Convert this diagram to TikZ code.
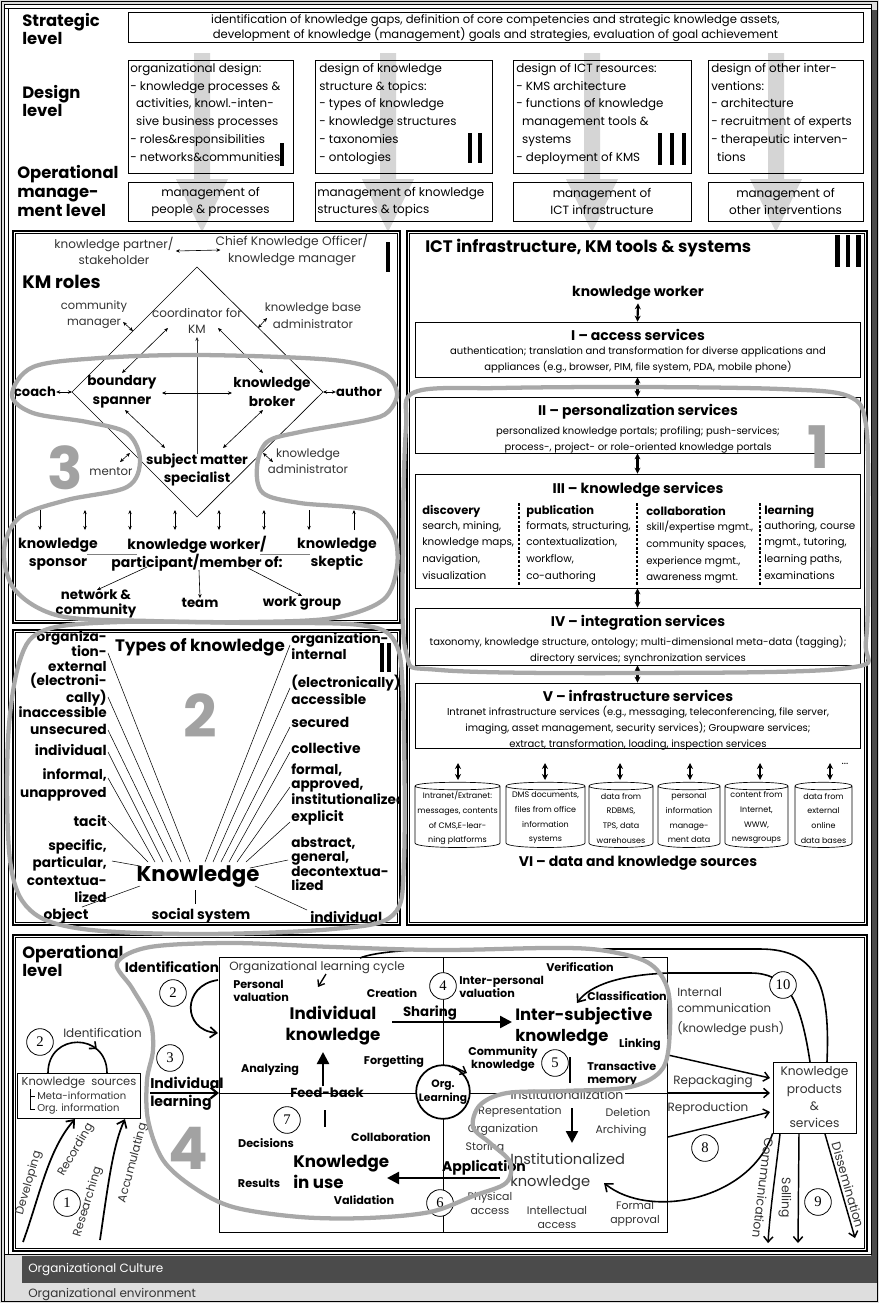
\documentclass[tikz,border=0pt]{standalone}
\usepackage{fontspec}
\setmainfont{Poppins}
\newfontfamily\numfont{Liberation Serif}
\usetikzlibrary{arrows.meta,fit,calc,decorations.markings}
\definecolor{bggray}{HTML}{DEDEDE}
\definecolor{darkbar}{HTML}{4B4B4B}
\definecolor{blobgray}{HTML}{A8A8A8}
\definecolor{arrowgray}{HTML}{D5D5D5}
\definecolor{digitgray}{HTML}{A2A2A2}
\definecolor{soft}{HTML}{333333}
\newcommand\fsz[2]{\fontsize{#1}{#2}\selectfont}
\newcommand\cylshape[2]{%
  \draw[line width=0.5pt] (#1,786) -- (#1,843) .. controls (#1,849) and (#2,849) .. (#2,843) -- (#2,786) .. controls (#2,781) and (#1,781) .. (#1,786) .. controls (#1,791) and (#2,791) .. (#2,786);}
\newcommand\gArrow[1]{%
  \fill[arrowgray] ({#1-8},53) -- ({#1+8},53) -- ({#1+8},179) -- ({#1+26},179) -- (#1,232) -- ({#1-26},179) -- ({#1-8},179) -- cycle;}
\newcommand\panelbox[4]{%
  \draw[line width=0.9pt] (#1,#2) rectangle (#3,#4);
  \draw[line width=0.5pt] ({#1+2.8},{#2+2.8}) rectangle ({#3-2.8},{#4-2.8});}
\begin{document}
\begin{tikzpicture}[x=0.75pt,y=-0.75pt,
  t/.style={inner sep=0pt, font=\fsz{9}{10.5}},
  lvl/.style={inner sep=0pt, anchor=west, align=left, font=\bfseries\fsz{12.3}{14}},
  frame/.style={draw, line width=0.5pt, inner sep=0pt},
  blob/.style={draw=blobgray, line width=3.2pt, line join=round},
  digit/.style={inner sep=0pt, text=digitgray, font=\bfseries\fsz{44}{44}},
  num/.style={draw, circle, fill=white, line width=0.6pt, minimum size=20pt, inner sep=0pt, font=\numfont\fsz{11}{11}},
  dbl/.style={{Stealth[length=3pt,width=2.6pt]}-{Stealth[length=3pt,width=2.6pt]}, line width=0.45pt},
  sgl/.style={-{Stealth[length=3pt,width=2.6pt]}, line width=0.45pt},
  fat/.style={{Stealth[length=4.5pt,width=4.5pt]}-{Stealth[length=4.5pt,width=4.5pt]}, line width=1.6pt},
  barb/.style={-{Straight Barb[length=4pt,width=7pt]}, line width=1.1pt},
  big/.style={-{Triangle[length=9pt,width=9pt]}, line width=1.8pt},
  sb/.style={inner sep=0pt, font=\bfseries\fsz{8.4}{9.8}},
  sr/.style={inner sep=0pt, font=\fsz{8.2}{10.5}, text=soft},
  kb/.style={inner sep=0pt, font=\bfseries\fsz{10.4}{11}},
  km/.style={inner sep=0pt, align=center, text=soft, font=\fsz{9}{12.5}},
  ict/.style={inner sep=0pt, font=\fsz{7.5}{12}, align=center},
  ictb/.style={inner sep=0pt, font=\bfseries\fsz{10.5}{11}},
  cyt/.style={inner sep=0pt, font=\fsz{6}{11}, align=center},
  rot/.style={inner sep=0pt, font=\fsz{8.7}{10}, text=soft}
]
\useasboundingbox (0,0) rectangle (879,1303);
% ---------- background and frame
\fill[bggray] (0,0) rectangle (879,1303);
\fill[darkbar] (871,10) rectangle (878,1283);
\fill[darkbar] (22,1256) rectangle (878,1283);
\fill[white] (4.5,4.5) rectangle (871,1254);
\draw[line width=0.7pt] (1.2,1.2) rectangle (877.8,1301.8);
\draw[line width=0.7pt] (4.5,1301.8) -- (4.5,4.5) -- (871,4.5) -- (871,1254) -- (4.5,1254);
\draw[line width=0.6pt] (8.5,8.5) -- (8.5,1254);
\draw[line width=0.6pt] (4.5,8.5) -- (871,8.5);
\node[t, anchor=west, text=white, font=\fsz{9}{10}] (culture) at (28,1270) {Organizational Culture};
\node[t, anchor=west, text=soft, font=\fsz{9}{10}] (env) at (28,1295) {Organizational environment};

% ---------- top levels
\gArrow{202}\gArrow{388}\gArrow{592}\gArrow{776}
\node[lvl] (strat) at (22,29) {Strategic\\level};
\node[lvl] (dlvl) at (22,101) {Design\\level};
\node[lvl, font=\bfseries\fsz{12.3}{13.9}] (olvl) at (17,191) {Operational\\manage-\\ment level};
\node[frame, fit={(128,12)(863,42)}] (sbox) {};
\node[t, align=center, font=\fsz{8.7}{10.3}] (stxt) at ($(sbox.center)+(0,1)$) {identification of knowledge gaps, definition of core competencies and strategic knowledge assets,\\development of knowledge (management) goals and strategies, evaluation of goal achievement};

\node[frame, fit={(128,60)(293,173)}] (d1) {};
\node[frame, fit={(315,60)(492,173)}] (d2) {};
\node[frame, fit={(513,60)(691,173)}] (d3) {};
\node[frame, fit={(708,60)(863,173)}] (d4) {};
\node[t, anchor=north west, align=left, font=\fsz{8.9}{13.35}] (d1t) at (130,63) {organizational design:\\- knowledge processes \&\\\hspace*{0.5em}activities, knowl.-inten-\\\hspace*{0.5em}sive business processes\\- roles\&responsibilities\\- networks\&communities};
\node[t, anchor=north west, align=left, font=\fsz{8.9}{13.35}] (d2t) at (319,63) {design of knowledge\\structure \& topics:\\- types of knowledge\\- knowledge structures\\- taxonomies\\- ontologies};
\node[t, anchor=north west, align=left, font=\fsz{8.9}{13.35}] (d3t) at (516,63) {design of ICT resources:\\- KMS architecture\\- functions of knowledge\\\hspace*{0.5em}management tools \&\\\hspace*{0.5em}systems\\- deployment of KMS};
\node[t, anchor=north west, align=left, font=\fsz{8.9}{13.35}] (d4t) at (711,63) {design of other inter-\\ventions:\\- architecture\\- recruitment of experts\\- therapeutic interven-\\\hspace*{0.5em}tions};
\fill (280,143) rectangle (284,166);
\fill (468,133) rectangle (472,163); \fill (478,133) rectangle (482,163);
\fill (658,133) rectangle (662,165); \fill (670,133) rectangle (674,165); \fill (682,133) rectangle (686,165);

\node[frame, fit={(128,182)(293,221)}] (o1) {};
\node[frame, fit={(315,182)(492,221)}] (o2) {};
\node[frame, fit={(513,182)(691,221)}] (o3) {};
\node[frame, fit={(708,182)(863,221)}] (o4) {};
\node[t, align=center, font=\fsz{9}{12.75}] (o1t) at (o1.center) {management of\\people \& processes};
\node[t, anchor=west, align=left, font=\fsz{9}{12.75}] (o2t) at (317,201.5) {management of knowledge\\structures \& topics};
\node[t, align=center, font=\fsz{9}{12.75}] (o3t) at (o3.center) {management of\\ICT infrastructure};
\node[t, align=center, font=\fsz{9}{12.75}] (o4t) at (o4.center) {management of\\other interventions};

% ---------- panels
\panelbox{13}{231}{400}{623}
\panelbox{13}{630}{400}{925}
\panelbox{407}{231}{867}{925}
\panelbox{13}{935}{867}{1251}

% ---------- KM roles
\node[lvl, font=\bfseries\fsz{13.5}{14}] (kmr) at (22,282) {KM roles};
\fill (385.5,242) rectangle (389.5,272);
\node[km] (kp) at (114,251) {knowledge partner/\\stakeholder};
\node[km, font=\fsz{9.2}{12.75}] (cko) at (292,250) {Chief Knowledge Officer/\\knowledge manager};
\draw[dbl] (kp.east) ++(2,0) -- ($(cko.west)+(5,0)$);
\coordinate (dT) at (197,267); \coordinate (dL) at (72,392);
\coordinate (dR) at (323,392); \coordinate (dB) at (197,517);
\draw[line width=0.5pt] (dT) -- (dR) -- (dB) -- (dL) -- cycle;
\node[km, font=\fsz{8.6}{12}] (cm) at (94,315) {community\\manager};
\node[km, font=\fsz{9}{12.5}] (coord) at (197,321) {coordinator for\\KM};
\node[km, font=\fsz{8.8}{12.8}] (kba) at (313,316) {knowledge base\\administrator};
\node[kb, font=\bfseries\fsz{9.8}{11}] (coach) at (35,392) {coach};
\node[kb, font=\bfseries\fsz{9.8}{11}] (author) at (359,392) {author};
\node[kb, align=center, font=\bfseries\fsz{10.2}{14}] (bs) at (122,392) {boundary\\spanner};
\node[kb, align=center, font=\bfseries\fsz{10.2}{14}] (kbr) at (272,392) {knowledge\\broker};
\node[kb, align=center, font=\bfseries\fsz{10}{13}] (sms) at (197,470) {subject matter\\specialist};
\node[km, font=\fsz{8.8}{12}] (mentor) at (111,472) {mentor};
\node[km, font=\fsz{8.8}{12}] (kadm) at (308,461) {knowledge\\administrator};
\draw[dbl] (123,322) -- (133,331);
\draw[dbl] (267,318) -- (258,328);
\draw[dbl] (168,328) -- (122,373);
\draw[dbl] (218,328) -- (263,373);
\draw[sgl, draw=soft] (sms.north) -- (197,337);
\draw[dbl] (162,393) -- (232,393);
\draw[dbl] (coach.east) -- (dL);
\draw[dbl] (author.west) -- (dR);
\draw[dbl] (125,410) -- (165,448);
\draw[dbl] (263,410) -- (223,448);
\draw[dbl] (120,462) -- (130,453);
\draw[dbl] (263,453) -- (273,462);
\draw[sgl] (40,510) -- (40,530);
\foreach \xx in {85,130,175,219,264} {\draw[dbl] (\xx,510) -- (\xx,530);}
\draw[sgl] (309,510) -- (309,530);
\draw[sgl] (354,530) -- (354,510);
\draw[line width=0.4pt, draw=gray] (87,554) -- (137,554);
\draw[line width=0.4pt, draw=gray] (260,554) -- (310,554);
\node[kb, align=center, font=\bfseries\fsz{10.5}{13.5}] (ksp) at (58,554) {knowledge\\sponsor};
\node[kb, align=center, font=\bfseries\fsz{10.5}{13.5}] (kwk) at (197,554) {knowledge worker/\\participant/member of:};
\node[kb, align=center, font=\bfseries\fsz{10.5}{13.5}] (ksk) at (337,554) {knowledge\\skeptic};
\node[kb, align=center, font=\bfseries\fsz{10}{11}] (nc) at (96,604) {network \&\\community};
\node[kb, font=\bfseries\fsz{10}{11}] (team) at (200,603) {team};
\node[kb, font=\bfseries\fsz{10}{11}] (wg) at (302,603) {work group};
\draw[sgl] (147,567) -- (97,590);
\draw[sgl] (199,570) -- (team.north);
\draw[sgl] (248,568) -- (302,596);
\node[digit] (d3g) at (65,468) {3};

% ---------- Types of knowledge
\node[inner sep=0pt, font=\bfseries\fsz{12.5}{13}] (ttl) at (200,647) {Types of knowledge};
\node[digit] (d2g) at (200,716) {2};
\fill (380,643) rectangle (384,672); \fill (387,643) rectangle (391,672);
\node[kb, anchor=east, align=right, font=\bfseries\fsz{10.2}{11.1}] (tl1) at (107,674) {organiza-\\tion-\\external\\(electroni-\\cally)\\inaccessible};
\node[kb, anchor=east] (tl2) at (107,729) {unsecured};
\node[kb, anchor=east] (tl3) at (107,750) {individual};
\node[kb, anchor=east, align=right, font=\bfseries\fsz{10.2}{13.5}] (tl4) at (107,785) {informal,\\unapproved};
\node[kb, anchor=east] (tl5) at (107,821) {tacit};
\node[kb, anchor=east, align=right, font=\bfseries\fsz{10.2}{13}] (tl6) at (107,871) {specific,\\particular,\\contextua-\\lized};
\node[kb] (tobj) at (66,916) {object};
\begin{scope}
\clip (14,630) rectangle (399,925);
\node[kb, anchor=west, align=left, font=\bfseries\fsz{10.2}{10.5}] (tr1) at (291,646) {organization-\\internal};
\node[kb, anchor=west, align=left, font=\bfseries\fsz{10.2}{12.75}] (tr2) at (291,690) {(electronically)\\accessible};
\node[kb, anchor=west] (tr3) at (291,722) {secured};
\node[kb, anchor=west] (tr4) at (291,748) {collective};
\node[kb, anchor=west, align=left, font=\bfseries\fsz{10.2}{10.5}] (tr5) at (291,784) {formal,\\approved,\\institutionalized};
\node[kb, anchor=west] (tr6) at (291,818) {explicit};
\node[kb, anchor=west, align=left, font=\bfseries\fsz{10.2}{10.7}] (tr7) at (291,864) {abstract,\\general,\\decontextua-\\lized};
\node[kb, anchor=west] (tind) at (310,917) {individual};
\end{scope}
\node[kb] (tsoc) at (201,916) {social system};
\node[inner sep=0pt, font=\bfseries\fsz{16}{18}] (know) at (198,877) {Knowledge};
\foreach \ys/\xe in {653/190,697/181,730/172,752/163,778/155,821/148} {\draw[line width=0.4pt] (108,\ys) -- (\xe,862);}
\foreach \ys/\xe in {645/205,688/213,727/221,752/229,787/237,822/246} {\draw[line width=0.4pt] (290,\ys) -- (\xe,862);}
\draw[line width=0.4pt] (112,861) -- (140,866);
\draw[line width=0.4pt] (82,907) -- (140,886);
\draw[line width=0.4pt] (288,860) -- (250,868);
\draw[line width=0.4pt] (255,886) -- (307,910);
\draw[line width=0.4pt] (195,890) -- (195,904);

% ---------- ICT
\node[lvl, font=\bfseries\fsz{12.5}{14}] (ictt) at (425,248) {ICT infrastructure, KM tools \& systems};
\fill (835,235) rectangle (839.5,267); \fill (845.5,235) rectangle (850,267); \fill (856,235) rectangle (860.5,267);
\node[inner sep=0pt, font=\bfseries\fsz{10.4}{12}] (kwr) at (638,293) {knowledge worker};
\node[frame, fit={(415,322)(860,377)}] (s1) {};
\node[frame, fit={(415,397)(860,453)}] (s2) {};
\node[frame, fit={(415,474)(860,588)}] (s3) {};
\node[frame, fit={(415,608)(860,665)}] (s4) {};
\node[frame, fit={(415,683)(860,748)}] (s5) {};
\node[ictb] (s1h) at (638,335) {I – access services};
\node[ict] (s1t) at (638,360) {authentication; translation and transformation for diverse applications and\\appliances (e.g., browser, PIM, file system, PDA, mobile phone)};
\node[ictb] (s2h) at (638,412) {II – personalization services};
\node[ict] (s2t) at (638,440) {personalized knowledge portals; profiling; push-services;\\process-, project- or role-oriented knowledge portals};
\node[ictb] (s3h) at (638,490) {III – knowledge services};
\node[ictb] (s4h) at (638,623) {IV – integration services};
\node[ict] (s4t) at (638,650) {taxonomy, knowledge structure, ontology; multi-dimensional meta-data (tagging);\\directory services; synchronization services};
\node[ictb] (s5h) at (638,696) {V – infrastructure services};
\node[ict] (s5t) at (638,728) {Intranet infrastructure services (e.g., messaging, teleconferencing, file server,\\imaging, asset management, security services); Groupware services;\\extract, transformation, loading, inspection services};
\node[inner sep=0pt, anchor=west, font=\bfseries\fsz{8.6}{10}] (c1h) at (422,511) {discovery};
\node[inner sep=0pt, anchor=west, font=\bfseries\fsz{8.6}{10}] (c2h) at (526,511) {publication};
\node[inner sep=0pt, anchor=west, font=\bfseries\fsz{8.6}{10}] (c3h) at (646,511) {collaboration};
\node[inner sep=0pt, anchor=west, font=\bfseries\fsz{8.6}{10}] (c4h) at (764,511) {learning};
\node[inner sep=0pt, anchor=north west, align=left, font=\fsz{7.8}{12.5}] (c1t) at (422,521) {search, mining,\\knowledge maps,\\navigation,\\visualization};
\node[inner sep=0pt, anchor=north west, align=left, font=\fsz{7.8}{12.5}] (c2t) at (526,521) {formats, structuring,\\contextualization,\\workflow,\\co-authoring};
\node[inner sep=0pt, anchor=north west, align=left, font=\fsz{7.6}{12.5}] (c3t) at (646,521) {skill/expertise mgmt.,\\community spaces,\\experience mgmt.,\\awareness mgmt.};
\node[inner sep=0pt, anchor=north west, align=left, font=\fsz{7.8}{12.5}] (c4t) at (764,521) {authoring, course\\mgmt., tutoring,\\learning paths,\\examinations};
\foreach \xx in {519,637,760} {\draw[line width=0.8pt, dash pattern=on 2pt off 1.3pt] (\xx,503) -- (\xx,586);}
\draw[fat] (kwr.south) ++(0,3) -- (s1.north);
\draw[fat] (s1.south) -- (s2.north);
\draw[fat] (s2.south) -- (s3.north);
\draw[fat] (s3.south) -- (s4.north);
\draw[fat] (s4.south) -- (s5.north);
\foreach \xx in {458,545,620,690,760,830} {\draw[fat] (\xx,763) -- (\xx,780);}
\node[inner sep=0pt, font=\fsz{8}{10}] (dots) at (845,764) {...};
\cylshape{415}{500}\cylshape{506}{585}\cylshape{589}{653}\cylshape{658}{720}\cylshape{725}{788}\cylshape{795}{852}
\node[cyt] (cy1) at (457.5,818) {Intranet/Extranet:\\messages, contents\\of CMS,E-lear-\\ning platforms};
\node[cyt] (cy2) at (545.5,818) {DMS documents,\\files from office\\information\\systems};
\node[cyt] (cy3) at (621,818) {data from\\RDBMS,\\TPS, data\\warehouses};
\node[cyt] (cy4) at (689,818) {personal\\information\\manage-\\ment data};
\node[cyt] (cy5) at (756.5,818) {content from\\Internet,\\WWW,\\newsgroups};
\node[cyt] (cy6) at (823.5,818) {data from\\external\\online\\data bases};
\node[ictb] (s6h) at (638,863) {VI – data and knowledge sources};

% ---------- Operational level
\node[lvl] (opl) at (22,961) {Operational\\level};
\node[draw, line width=0.5pt, inner sep=0pt, fit={(219,957)(667,1232)}] (cyc) {};
\draw[line width=0.5pt] (443,957) -- (443,1232);
\draw[line width=0.5pt] (219,1093) -- (667,1093);
\draw[barb] (667,1093) -- (770,1093);
\node[inner sep=0pt, font=\bfseries\fsz{10.2}{10}] (ident1) at (172,967) {Identification};
\node[inner sep=0pt, anchor=west, font=\fsz{9}{10}, text=soft] (olc) at (229,968) {Organizational learning cycle};
\node[sb, anchor=west, align=left] (pv) at (233,991) {Personal\\valuation};
\node[sb] (crea) at (392,993) {Creation};
\node[sb, anchor=west, align=left] (ipv) at (459,987) {Inter-personal\\valuation};
\node[sb] (verif) at (580,967) {Verification};
\node[sb, anchor=west] (classif) at (587,996) {Classification};
\node[inner sep=0pt, align=center, font=\bfseries\fsz{12.5}{15.75}] (indk) at (333,1026) {Individual\\knowledge};
\node[inner sep=0pt, anchor=west, align=left, font=\bfseries\fsz{12.3}{15.75}] (isk) at (515,1027) {Inter-subjective\\knowledge};
\node[inner sep=0pt, font=\bfseries\fsz{10}{11}] (shar) at (430,1013) {Sharing};
\node[sb] (link) at (640,1045) {Linking};
\node[sb, align=center] (comk) at (503,1059) {Community\\knowledge};
\node[sb, anchor=west, align=left] (trans) at (587,1074) {Transactive\\memory};
\node[sb] (forg) at (394,1062) {Forgetting};
\node[sb] (anal) at (270,1070) {Analyzing};
\node[inner sep=0pt, font=\bfseries\fsz{9.8}{11}] (feed) at (327,1093) {Feed-back};
\node[inner sep=0pt, anchor=west, align=left, font=\bfseries\fsz{10.6}{13.5}] (indl) at (150,1094) {Individual\\learning};
\node[sr, fill=white, inner xsep=1pt, font=\fsz{9.3}{10}] (instz) at (567,1095) {Institutionalization};
\node[sr] (repr) at (520,1112) {Representation};
\node[sr] (del) at (628,1112) {Deletion};
\node[sr] (orgz) at (503,1130) {Organization};
\node[sr] (arch) at (621,1131) {Archiving};
\node[sr] (stor) at (485,1148) {Storing};
\node[inner sep=0pt, font=\bfseries\fsz{10.5}{11}] (appl) at (484,1168) {Application};
\node[inner sep=0pt, anchor=west, align=left, font=\fsz{11}{17}, text=soft] (instk) at (510,1172) {Institutionalized\\knowledge};
\node[sr, align=center] (phys) at (490,1203) {Physical\\access};
\node[sr, align=center] (intel) at (557,1217) {Intellectual\\access};
\node[sr, align=center] (formal) at (635,1214) {Formal\\approval};
\node[sb] (dec) at (266,1143) {Decisions};
\node[sb] (collab) at (391,1137) {Collaboration};
\node[inner sep=0pt, anchor=west, align=left, font=\bfseries\fsz{12.5}{15.75}] (kiu) at (293,1172) {Knowledge\\in use};
\node[sb] (res) at (259,1183) {Results};
\node[sb] (valid) at (364,1200) {Validation};
\node[draw, circle, fill=white, line width=1.3pt, minimum size=39pt, inner sep=0pt, align=center, font=\bfseries\fsz{8}{10}] (orgl) at (443,1092) {Org.\\Learning};
\draw[line width=1.1pt, -{Straight Barb[length=4pt,width=7pt]}] (452,1066) -- (467,1073);
% arrows in cycle
\draw[big] (392,1022) -- (512,1022);
\draw[big] (323,1086) -- (323,1052);
\draw[line width=2pt] (325,1110) -- (325,1127);
\draw[line width=1.8pt] (570,1057) -- (570,1083);
\draw[big] (572,1108) -- (572,1143);
\draw[big] (500,1178) -- (387,1178);
\draw[line width=1pt, -{Straight Barb[length=4pt,width=6pt]}] (326,974) -- (318,987);
\draw[line width=1.3pt, -{Straight Barb[length=5pt,width=8pt]}] (218,980) .. controls (182,985) and (182,1030) .. (218,1033);
\draw[line width=1.6pt, -{Straight Barb[length=5pt,width=8pt]}] (150,1093) -- (219,1093);
% left part
\node[frame, fit={(17,1073)(140,1118)}] (ksrc) {};
\node[inner sep=0pt, font=\fsz{8.6}{10}, text=soft] (ksrct) at (79,1083) {Knowledge\ \ sources};
\node[inner sep=0pt, anchor=west, font=\fsz{7.5}{10}, text=soft] (meta) at (37,1096) {Meta-information};
\node[inner sep=0pt, anchor=west, font=\fsz{7.5}{10}, text=soft] (orgi) at (37,1109) {Org. information};
\draw[line width=0.4pt] (30,1089) -- (30,1109) -- (35,1109);
\draw[line width=0.4pt] (30,1096) -- (35,1096);
\node[inner sep=0pt, anchor=west, font=\fsz{9}{10}, text=soft] (ident2) at (63,1033) {Identification};
\draw[line width=1.2pt, postaction={decorate}, decoration={markings, mark=at position 0.72 with {\arrow{Straight Barb[length=4pt,width=7pt]}}}] (48,1073) .. controls (48,1032) and (107,1032) .. (107,1073);
\draw[line width=1.3pt, -{Straight Barb[length=5pt,width=8pt]}] (23,1242) .. controls (40,1195) and (48,1150) .. (75,1119);
\draw[line width=1.3pt, -{Straight Barb[length=5pt,width=8pt]}] (100,1240) .. controls (108,1185) and (113,1145) .. (125,1119);
\node[rot, rotate=74] (devl) at (29,1183) {Developing};
\node[rot, rotate=60] (recd) at (76,1150) {Recording};
\node[rot, rotate=73] (rsch) at (88,1202) {Researching};
\node[rot, rotate=75] (accu) at (133,1163) {Accumulating};
% right part
\node[frame, fit={(773,1062)(856,1133)}] (kps) {};
\node[inner sep=0pt, align=center, font=\fsz{9.2}{13}, text=soft] (kpst) at (kps.center) {Knowledge\\products\\\&\\services};
\node[inner sep=0pt, anchor=west, align=left, font=\fsz{8.8}{12}, text=soft] (icom) at (677,1012) {Internal\\communication\\[3pt](knowledge push)};
\node[inner sep=0pt, font=\fsz{9}{10}, text=soft] (repk) at (713,1082) {Repackaging};
\node[inner sep=0pt, font=\fsz{9}{10}, text=soft] (repro) at (708,1108) {Reproduction};
\draw[barb] (668,1055) -- (770,1078);
\draw[barb] (668,1137) -- (770,1112);
\draw[line width=1.2pt, -{Straight Barb[length=5pt,width=8pt]}] (kps.south west) .. controls (750,1200) and (650,1220) .. (604,1183);
\draw[line width=1.2pt, -{Straight Barb[length=5pt,width=8pt]}] (810,1062) .. controls (800,995) and (785,973) .. (750,973) -- (668,973) .. controls (620,975) and (590,985) .. (577,1003);
\draw[line width=1.2pt] (827,1062) .. controls (830,990) and (820,949) .. (760,949) -- (440,949) .. controls (400,950) and (372,953) .. (360,958);
\draw[barb] (780,1134) .. controls (776,1170) and (770,1210) .. (768,1243);
\draw[barb] (799,1134) -- (798,1243);
\draw[barb] (825,1134) -- (855,1238);
\node[rot, rotate=-97, font=\fsz{9.3}{10}] (comm) at (763,1188) {Communication};
\node[rot, rotate=-90, font=\fsz{9.3}{10}] (sell) at (785,1198) {Selling};
\node[rot, rotate=-74, font=\fsz{9.3}{10}] (diss) at (848,1185) {Dissemination};
% number circles
\node[num] (n2a) at (173,993) {2};
\node[num] (n4) at (443,986) {4};
\node[num] (n5) at (555,1063) {5};
\node[num] (n3) at (170,1058) {3};
\node[num] (n7) at (287,1120) {7};
\node[num] (n6) at (440,1203) {6};
\node[num] (n2b) at (40,1042) {2};
\node[num] (n1) at (67,1203) {1};
\node[num] (n10) at (783,985) {10};
\node[num] (n8) at (705,1148) {8};
\node[num] (n9) at (818,1202) {9};
\node[digit] (d4g) at (188,1148) {4};
\node[digit] (d1g) at (819,447) {1};

% ---------- blobs
\draw[blob] plot[smooth cycle, tension=0.55] coordinates {(415,392) (500,388) (640,387) (780,389) (848,396) (866,425) (868,520) (866,640) (848,668) (640,673) (440,670) (406,652) (403,540) (406,428)};
\draw[blob] plot[smooth cycle, tension=0.55] coordinates {(20,660) (45,630) (120,622) (250,623) (360,625) (395,642) (403,700) (404,860) (393,915) (333,929) (200,934) (83,929) (30,910) (10,860) (8,740)};
\draw[blob] plot[smooth cycle, tension=0.55] coordinates {(12,395) (33,367) (100,358) (200,355) (333,360) (383,373) (397,393) (388,412) (367,420) (300,432) (267,442) (257,467) (263,493) (300,503) (367,510) (393,533) (397,567) (383,600) (333,618) (250,622) (150,621) (60,616) (15,590) (4,550) (20,517) (67,500) (127,487) (140,460) (127,433) (87,422) (33,413)};
\draw[blob] plot[smooth cycle, tension=0.55] coordinates {(117,963) (150,947) (233,943) (333,947) (440,950) (547,948) (600,950) (647,962) (667,987) (670,1027) (663,1068) (630,1087) (563,1091) (507,1093) (480,1105) (473,1127) (490,1143) (510,1162) (506,1183) (473,1196) (430,1212) (367,1218) (300,1217) (233,1207) (193,1187) (163,1160) (148,1120) (147,1080) (153,1050) (150,1020) (132,988)};
\end{tikzpicture}
\end{document}
